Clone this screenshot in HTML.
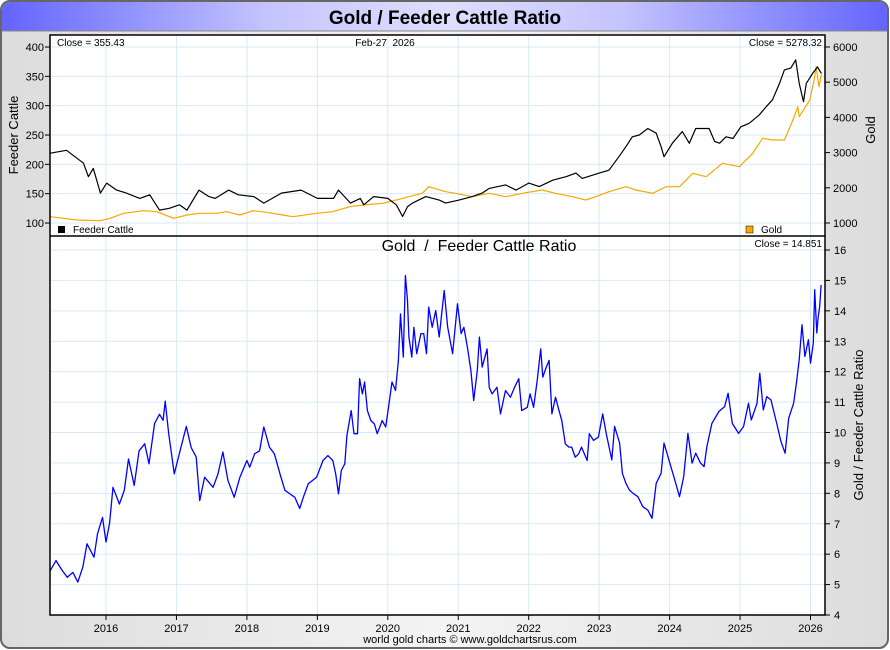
<!DOCTYPE html>
<html><head><meta charset="utf-8">
<style>
html,body{margin:0;padding:0;width:890px;height:650px;overflow:hidden;background:#fff;font-family:"Liberation Sans",sans-serif;}
svg{display:block}
</style></head>
<body>
<svg id="chart" width="890" height="650" viewBox="0 0 890 650" xmlns="http://www.w3.org/2000/svg">
<defs>
<linearGradient id="tb" x1="0" x2="1" y1="0" y2="0">
<stop offset="0" stop-color="#6464ff"/><stop offset="0.3" stop-color="#c4c4ff"/><stop offset="0.5" stop-color="#dedeff"/><stop offset="0.7" stop-color="#c4c4ff"/><stop offset="1" stop-color="#6464ff"/>
</linearGradient>
<linearGradient id="bg" x1="0" x2="1" y1="0" y2="0">
<stop offset="0" stop-color="#dcdcdc"/><stop offset="0.5" stop-color="#f4f4f4"/><stop offset="1" stop-color="#dcdcdc"/>
</linearGradient>
</defs>
<rect x="1" y="1" width="887" height="647" rx="9" fill="url(#bg)" stroke="#666" stroke-width="2"/>
<path d="M2,31 L2,11 Q2,2 11,2 L878,2 Q887,2 887,11 L887,31 Z" fill="url(#tb)"/>
<line x1="2" y1="31" x2="887" y2="31" stroke="#888" stroke-width="1"/>
<text x="445" y="24" text-anchor="middle" font-size="19" font-weight="bold" fill="#000">Gold / Feeder Cattle Ratio</text>
<rect x="50" y="35" width="775" height="580" fill="#fff"/>
<g id="grid"></g>
<g id="series"></g>
<rect x="50" y="35" width="775" height="580" fill="none" stroke="#000" stroke-width="1.5"/>
<line x1="50" y1="236" x2="825" y2="236" stroke="#000" stroke-width="1.5"/>
<g id="axes" font-size="11" fill="#000"></g>
<text x="57" y="46" font-size="10">Close = 355.43</text>
<text x="385" y="46" text-anchor="middle" font-size="10">Feb-27&#160; 2026</text>
<text x="822" y="46" text-anchor="end" font-size="10">Close = 5278.32</text>
<rect x="58" y="226" width="7" height="7" fill="#000"/>
<text x="73" y="233" font-size="10">Feeder Cattle</text>
<rect x="746" y="226" width="7" height="7" fill="#f5a800" stroke="#000" stroke-width="0.5"/>
<text x="761" y="233" font-size="10">Gold</text>
<text x="479" y="251" text-anchor="middle" font-size="16">Gold &#160;/ &#160;Feeder Cattle Ratio</text>
<text x="822" y="247" text-anchor="end" font-size="10">Close = 14.851</text>
<text transform="translate(18,135) rotate(-90)" text-anchor="middle" font-size="13">Feeder Cattle</text>
<text transform="translate(875,130) rotate(-90)" text-anchor="middle" font-size="13">Gold</text>
<text transform="translate(863,425) rotate(-90)" text-anchor="middle" font-size="13">Gold / Feeder Cattle Ratio</text>
<text x="470" y="643" text-anchor="middle" font-size="11">world gold charts © www.goldchartsrus.com</text>
</svg>
<script>
const yearTicks = [2016,2017,2018,2019,2020,2021,2022,2023,2024,2025,2026];
const cattleTicks = [100,150,200,250,300,350,400];
const goldTicks = [1000,2000,3000,4000,5000,6000];
const ratioTicks = [4,5,6,7,8,9,10,11,12,13,14,15,16];

const ratioDates = [2015.21,2015.29,2015.38,2015.45,2015.53,2015.60,2015.67,2015.73,2015.83,2015.88,2015.95,2016.0,2016.05,2016.10,2016.19,2016.26,2016.32,2016.40,2016.47,2016.55,2016.61,2016.69,2016.76,2016.81,2016.84,2016.89,2016.97,2017.04,2017.14,2017.21,2017.28,2017.33,2017.40,2017.52,2017.59,2017.66,2017.73,2017.82,2017.90,2018.0,2018.04,2018.11,2018.18,2018.24,2018.32,2018.39,2018.47,2018.54,2018.61,2018.68,2018.75,2018.80,2018.87,2018.99,2019.08,2019.15,2019.22,2019.26,2019.30,2019.34,2019.39,2019.42,2019.48,2019.52,2019.57,2019.60,2019.64,2019.67,2019.71,2019.76,2019.81,2019.85,2019.92,2019.97,2020.01,2020.06,2020.11,2020.15,2020.18,2020.22,2020.25,2020.28,2020.30,2020.34,2020.37,2020.41,2020.47,2020.51,2020.55,2020.58,2020.63,2020.68,2020.73,2020.80,2020.85,2020.92,2020.99,2021.04,2021.08,2021.13,2021.18,2021.22,2021.27,2021.30,2021.34,2021.41,2021.44,2021.48,2021.55,2021.60,2021.67,2021.74,2021.80,2021.86,2021.90,2021.98,2022.02,2022.07,2022.12,2022.17,2022.20,2022.25,2022.29,2022.33,2022.38,2022.43,2022.47,2022.52,2022.57,2022.61,2022.66,2022.71,2022.75,2022.83,2022.86,2022.92,2022.99,2023.05,2023.10,2023.18,2023.22,2023.29,2023.33,2023.38,2023.43,2023.48,2023.55,2023.62,2023.69,2023.75,2023.81,2023.88,2023.92,2023.99,2024.06,2024.14,2024.20,2024.26,2024.32,2024.37,2024.44,2024.49,2024.53,2024.60,2024.70,2024.78,2024.83,2024.89,2024.98,2025.05,2025.12,2025.16,2025.24,2025.28,2025.33,2025.38,2025.44,2025.52,2025.58,2025.64,2025.69,2025.76,2025.80,2025.84,2025.88,2025.92,2025.97,2026.00,2026.04,2026.06,2026.09,2026.11,2026.13,2026.15];
const ratioValues = [5.46,5.79,5.46,5.24,5.4,5.08,5.57,6.34,5.9,6.67,7.21,6.4,7.0,8.2,7.65,8.1,9.13,8.26,9.4,9.63,8.97,10.3,10.6,10.4,11.03,9.96,8.64,9.3,10.2,9.5,9.19,7.76,8.53,8.2,8.64,9.36,8.43,7.87,8.53,9.08,8.86,9.3,9.4,10.18,9.52,9.3,8.64,8.1,7.98,7.87,7.5,7.87,8.31,8.53,9.08,9.24,9.08,8.64,7.98,8.75,8.97,9.9,10.72,9.96,9.96,11.77,11.27,11.66,10.72,10.39,10.28,9.96,10.39,10.18,10.83,11.66,11.38,12.37,13.9,12.48,15.16,14.34,13.14,12.48,13.46,12.59,13.25,13.25,12.59,14.12,13.46,14.01,13.14,14.67,13.46,12.59,14.23,13.25,13.46,12.8,12.04,11.05,12.04,13.14,12.15,12.75,11.49,11.27,11.49,10.61,11.38,11.16,11.49,11.77,10.72,10.83,11.27,10.83,11.71,12.75,11.82,12.15,12.37,10.61,11.16,10.72,10.39,9.63,9.52,9.52,9.19,9.3,9.52,9.08,9.96,9.74,9.85,10.61,9.97,9.1,10.2,9.65,8.66,8.33,8.11,8.0,7.89,7.56,7.45,7.18,8.33,8.66,9.65,9.1,8.55,7.89,8.55,9.97,8.99,9.32,8.99,8.88,9.54,10.3,10.69,10.85,11.29,10.3,9.97,10.2,10.96,10.41,10.96,11.95,10.74,11.18,11.07,10.3,9.71,9.32,10.47,10.96,11.62,12.39,13.54,12.5,13.05,12.28,12.94,14.69,13.27,13.81,14.14,14.85];

const cattleDates = [2015.21,2015.44,2015.68,2015.75,2015.82,2015.92,2016.01,2016.15,2016.29,2016.48,2016.62,2016.76,2016.90,2017.04,2017.15,2017.32,2017.46,2017.55,2017.74,2017.88,2018.10,2018.24,2018.49,2018.77,2019.0,2019.23,2019.30,2019.47,2019.61,2019.66,2019.80,2020.0,2020.12,2020.21,2020.28,2020.35,2020.54,2020.73,2020.82,2021.01,2021.20,2021.34,2021.44,2021.67,2021.82,2022.0,2022.15,2022.34,2022.53,2022.67,2022.76,2023.0,2023.14,2023.28,2023.38,2023.47,2023.57,2023.69,2023.81,2023.88,2023.92,2024.04,2024.18,2024.28,2024.37,2024.56,2024.64,2024.71,2024.80,2024.90,2025.01,2025.13,2025.27,2025.37,2025.46,2025.56,2025.63,2025.72,2025.79,2025.84,2025.90,2025.94,2026.03,2026.10,2026.15];
const cattleValues = [219,224,202,179,193,151,168,156,151,142,148,122,125,131,122,156,145,142,156,148,145,134,151,156,142,142,156,134,142,131,145,142,131,111,128,134,145,139,134,139,145,151,159,165,156,168,162,173,179,185,176,185,190,213,230,247,250,261,253,230,213,236,256,236,261,261,239,236,247,244,264,270,284,298,310,338,361,364,378,338,307,338,355,366,355.43];

const goldDates = [2015.21,2015.59,2015.92,2016.06,2016.25,2016.53,2016.72,2016.96,2017.15,2017.33,2017.57,2017.71,2017.90,2018.09,2018.28,2018.51,2018.65,2018.99,2019.22,2019.46,2019.65,2019.93,2020.16,2020.30,2020.49,2020.58,2020.82,2020.96,2021.20,2021.44,2021.67,2021.96,2022.19,2022.38,2022.62,2022.81,2022.95,2023.14,2023.38,2023.52,2023.76,2023.95,2024.14,2024.33,2024.52,2024.75,2024.99,2025.18,2025.32,2025.46,2025.63,2025.75,2025.82,2025.84,2025.99,2026.06,2026.08,2026.12,2026.16];
const goldValues = [1180,1085,1066,1133,1275,1350,1322,1133,1227,1275,1275,1322,1227,1350,1303,1227,1180,1275,1322,1464,1511,1559,1672,1748,1843,2032,1890,1843,1748,1843,1748,1862,1937,1843,1748,1653,1748,1890,2032,1937,1843,2032,2032,2411,2316,2695,2600,2979,3405,3358,3358,3926,4305,4021,4495,5157,5441,4873,5278.32];

const NS = "http://www.w3.org/2000/svg";
const X0 = 50, X1 = 825;
function xScale(yr){ return 106 + (yr - 2016) * 70.45; }
function yCattle(v){ return 223 - (v - 100) * (176 / 300); }
function yGold(v){ return 223 - (v - 1000) * (176 / 5000); }
function yRatio(v){ return 615 - (v - 4) * (365 / 12); }

function mk(tag, attrs, parent){ const e = document.createElementNS(NS, tag); for (const k in attrs) e.setAttribute(k, attrs[k]); parent.appendChild(e); return e; }

const grid = document.getElementById('grid');
const axes = document.getElementById('axes');
const series = document.getElementById('series');

yearTicks.forEach(function(yr){
  const x = xScale(yr);
  const gl = mk('line', {x1:x, x2:x, y1:35, y2:615, stroke:'#d8eaf7', 'stroke-width':1}, grid);
  
  
  mk('line', {x1:x, x2:x, y1:615, y2:620, stroke:'#000'}, axes);
  const t = mk('text', {x:x, y:632, 'text-anchor':'middle'}, axes);
  t.textContent = yr;
  
  
});
cattleTicks.forEach(function(v){
  const y = yCattle(v);
  const gl = mk('line', {x1:X0, x2:X1, y1:y, y2:y, stroke:'#d8eaf7', 'stroke-width':1}, grid);
  
  
  mk('line', {x1:45, x2:50, y1:y, y2:y, stroke:'#000'}, axes);
  const t = mk('text', {x:44, y:y+4, 'text-anchor':'end'}, axes);
  t.textContent = v;
  
  
});
goldTicks.forEach(function(v){
  const y = yGold(v);
  mk('line', {x1:825, x2:830, y1:y, y2:y, stroke:'#000'}, axes);
  const t = mk('text', {x:833, y:y+4}, axes);
  t.textContent = v;
  
  
});
ratioTicks.forEach(function(v){
  const y = yRatio(v);
  if (v > 4) {
    const gl = mk('line', {x1:X0, x2:X1, y1:y, y2:y, stroke:'#d8eaf7', 'stroke-width':1}, grid);
    
    
  }
  mk('line', {x1:825, x2:830, y1:y, y2:y, stroke:'#000'}, axes);
  const t = mk('text', {x:834, y:y+4}, axes);
  t.textContent = v;
  
  
});

function pts(dates, vals, ys){ return dates.map(function(d,i){ return xScale(d).toFixed(1) + ',' + ys(vals[i]).toFixed(1); }).join(' '); }

const gl = mk('polyline', {points: pts(goldDates, goldValues, yGold), fill:'none', stroke:'#f5a800', 'stroke-width':1.2, 'stroke-linejoin':'round'}, series);


const cl = mk('polyline', {points: pts(cattleDates, cattleValues, yCattle), fill:'none', stroke:'#000', 'stroke-width':1.2, 'stroke-linejoin':'round'}, series);


const rl = mk('polyline', {points: pts(ratioDates, ratioValues, yRatio), fill:'none', stroke:'#0000ff', 'stroke-width':1.3, 'stroke-linejoin':'round'}, series);


</script>
</body></html>
